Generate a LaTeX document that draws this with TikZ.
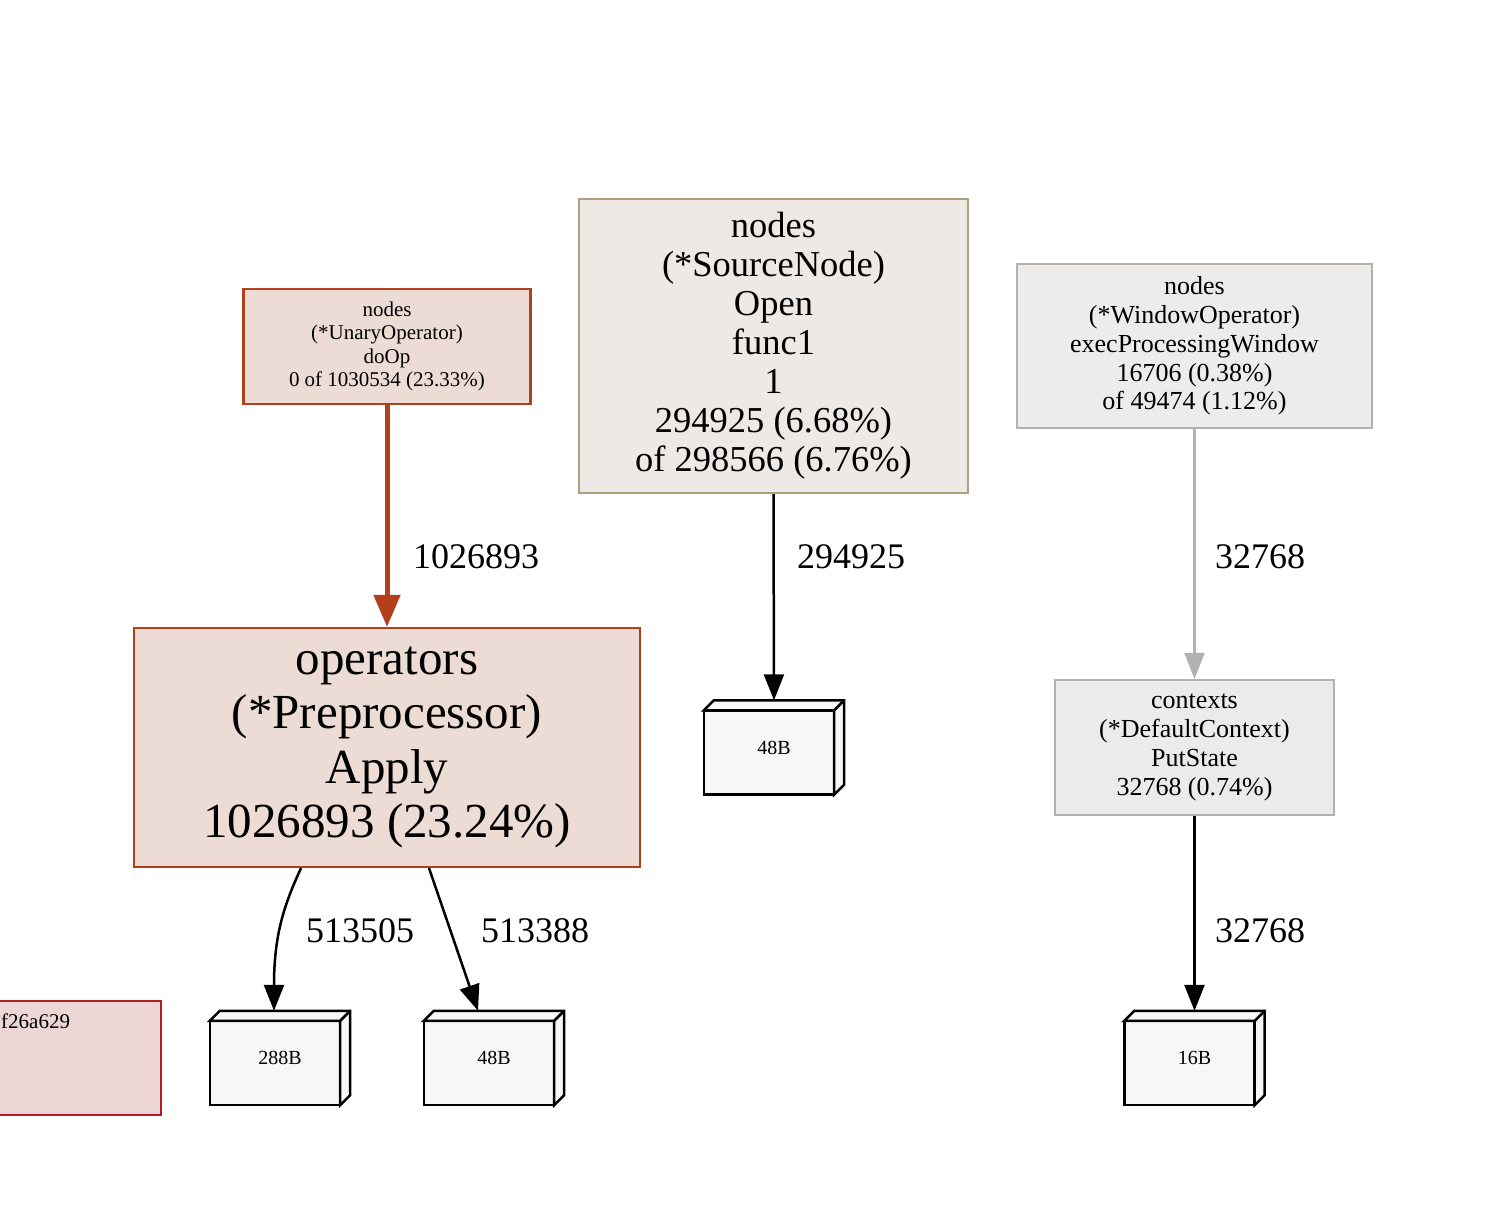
\documentclass[tikz,border=0pt]{standalone}
\usepackage{fontspec}
\setmainfont{Liberation Serif}
\usetikzlibrary{arrows.meta,calc}
\definecolor{hotB}{HTML}{B2401A}
\definecolor{hotF}{HTML}{EDDCD5}
\definecolor{srcB}{HTML}{B29D82}
\definecolor{srcF}{HTML}{EDEAE5}
\definecolor{winB}{HTML}{B2B2B0}
\definecolor{winF}{HTML}{EDECEB}
\definecolor{ctxB}{HTML}{B2B2B2}
\definecolor{ctxF}{HTML}{EBEBEB}
\definecolor{redB}{HTML}{B21E1E}
\definecolor{redF}{HTML}{EDD6D6}
\definecolor{boxF}{HTML}{F7F7F7}
\tikzset{
  fnode/.style={draw, line width=2.2pt, align=center, inner sep=0pt},
  b3dnode/.style={draw=none, minimum width=140pt, minimum height=94pt, inner sep=0pt, font=\fontsize{20}{23}\selectfont},
  b3d/.style={draw=black, fill=boxF, line width=2.5pt, line join=miter},
  elabel/.style={font=\fontsize{36}{41}\selectfont, inner sep=0pt},
  blackedge/.style={line width=2.5pt, draw=black, -{Triangle[length=26pt,width=20pt]}},
  greyedge/.style={line width=2.5pt, draw=ctxB, -{Triangle[length=26pt,width=20pt]}},
  hotedge/.style={line width=5pt, draw=hotB, -{Triangle[length=32pt,width=26pt]}}
}
\begin{document}
\begin{tikzpicture}[x=1pt,y=-1pt]
\useasboundingbox (0,0) rectangle (1492,1222);
% legend-like partial node
\node[fnode, draw=redB, fill=redF, minimum width=180pt, minimum height=114pt] (legend) at (71,1058) {};
\node[anchor=west, inner sep=0pt, font=\fontsize{21}{24}\selectfont] (legtxt) at (1,1021) {f26a629};

\node[fnode, draw=hotB, fill=hotF, minimum width=287pt, minimum height=115pt, font=\fontsize{21}{23.5}\selectfont] (unary) at (387,346.5) {nodes\\(*UnaryOperator)\\doOp\\0 of 1030534 (23.33\%)};
\node[fnode, draw=hotB, fill=hotF, minimum width=506pt, minimum height=239pt, font=\fontsize{49}{54.5}\selectfont] (ops) at (387,747.5) {operators\\(*Preprocessor)\\Apply\\1026893 (23.24\%)};
\node[fnode, draw=srcB, fill=srcF, minimum width=389pt, minimum height=294pt, font=\fontsize{36.5}{39}\selectfont] (src) at (773.5,346) {nodes\\(*SourceNode)\\Open\\func1\\1\\294925 (6.68\%)\\of 298566 (6.76\%)};
\node[fnode, draw=winB, fill=winF, minimum width=355pt, minimum height=164pt, font=\fontsize{26}{28.8}\selectfont] (win) at (1194.5,346) {nodes\\(*WindowOperator)\\execProcessingWindow\\16706 (0.38\%)\\of 49474 (1.12\%)};
\node[fnode, draw=ctxB, fill=ctxF, minimum width=279pt, minimum height=135pt, font=\fontsize{26}{28.8}\selectfont] (ctx) at (1194.5,747.5) {contexts\\(*DefaultContext)\\PutState\\32768 (0.74\%)};

\node[b3dnode] (b48a) at (774,747.5) {};
\node[b3dnode] (b288) at (280,1058) {};
\node[b3dnode] (b48b) at (494,1058) {};
\node[b3dnode] (b16) at (1194.5,1058) {};
\foreach \n in {b48a,b288,b48b,b16} {
  \filldraw[b3d] (\n.south west) rectangle ([shift={(-10,10)}]\n.north east);
  \filldraw[b3d] ([shift={(0,10)}]\n.north west) -- ([shift={(10,0)}]\n.north west) -- (\n.north east) -- ([shift={(0,-10)}]\n.south east) -- ([shift={(-10,0)}]\n.south east) -- ([shift={(-10,10)}]\n.north east) -- cycle;
  \draw[b3d] ([shift={(-10,10)}]\n.north east) -- (\n.north east);
}
\node[b3dnode] (t48a) at (b48a) {48B};
\node[b3dnode] (t288) at (b288) {288B};
\node[b3dnode] (t48b) at (b48b) {48B};
\node[b3dnode] (t16) at (b16) {16B};

\draw[hotedge] (unary.south) -- (ops.north);
\draw[blackedge] (src.south) -- (b48a.north);
\draw[greyedge] (win.south) -- (ctx.north);
\draw[blackedge] (ctx.south) -- (b16.north);
\draw[blackedge] ($(ops.south)+(-86,0)$) .. controls (284,905) and (274,935) .. ($(b288.north)+(-6,0)$);
\draw[blackedge] ($(ops.south)+(42,0)$) -- ($(b48b.north)+(-16,0)$);

\node[elabel] (l1) at (476,557) {1026893};
\node[elabel] (l2) at (851,557) {294925};
\node[elabel] (l3) at (1260,557) {32768};
\node[elabel] (l4) at (1260,931) {32768};
\node[elabel] (l5) at (360,931) {513505};
\node[elabel] (l6) at (535,931) {513388};
\end{tikzpicture}
\end{document}
